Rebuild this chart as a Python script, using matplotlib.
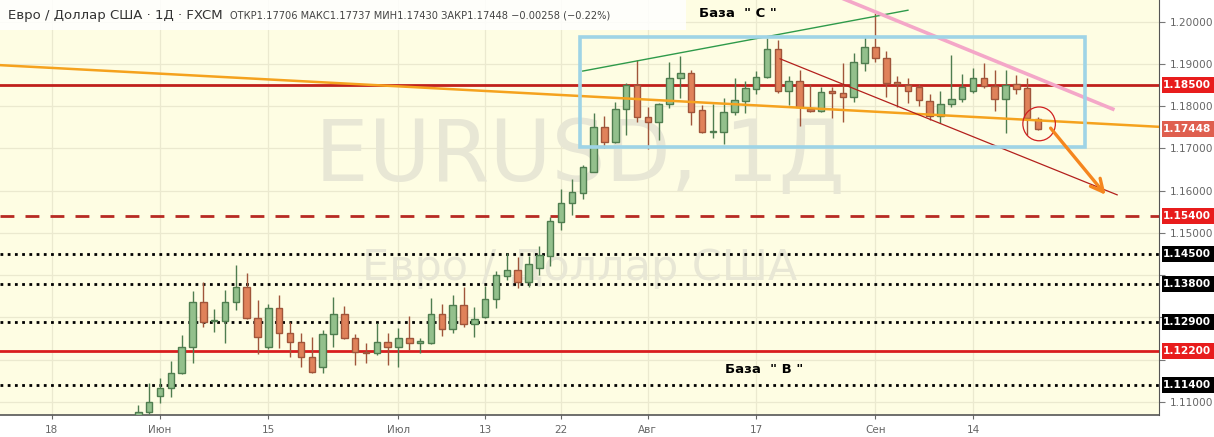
import matplotlib
matplotlib.use("Agg")
import matplotlib.pyplot as plt
from matplotlib import patches
from matplotlib.transforms import blended_transform_factory
import numpy as np

# EURUSD daily candles, 28 May .. 22 Sep (index 0 = 28 May)
opens = [
    1.1010, 1.1076, 1.1114, 1.1133, 1.1168, 1.1230, 1.1336, 1.1291, 1.1291, 1.1336,
    1.1372, 1.1299, 1.1230, 1.1322, 1.1263, 1.1242, 1.1206, 1.1183, 1.1261, 1.1308,
    1.1251, 1.1218, 1.1216, 1.1242, 1.1230, 1.1251, 1.1239, 1.1239, 1.1308, 1.1272,
    1.1329, 1.1284, 1.1301, 1.1343, 1.1399, 1.1412, 1.1384, 1.1417, 1.1445, 1.1526,
    1.1571, 1.1594, 1.1644, 1.1751, 1.1715, 1.1793, 1.1850, 1.1774, 1.1762, 1.1805,
    1.1867, 1.1878, 1.1791, 1.1739, 1.1739, 1.1786, 1.1812, 1.1840, 1.1869, 1.1935,
    1.1836, 1.1859, 1.1793, 1.1788, 1.1836, 1.1831, 1.1822, 1.1902, 1.1940, 1.1914,
    1.1857, 1.1850, 1.1845, 1.1812, 1.1777, 1.1805, 1.1817, 1.1836, 1.1867, 1.1848,
    1.1817, 1.1852, 1.1843, 1.17706]
highs = [
    1.1093, 1.1145, 1.1157, 1.1197, 1.1258, 1.1362, 1.1384, 1.1320, 1.1365, 1.1424,
    1.1405, 1.1341, 1.1332, 1.1353, 1.1289, 1.1263, 1.1254, 1.1270, 1.1348, 1.1327,
    1.1261, 1.1239, 1.1287, 1.1263, 1.1275, 1.1303, 1.1251, 1.1346, 1.1332, 1.1353,
    1.1372, 1.1325, 1.1374, 1.1410, 1.1452, 1.1443, 1.1445, 1.1469, 1.1538, 1.1604,
    1.1628, 1.1661, 1.1784, 1.1777, 1.1810, 1.1855, 1.1909, 1.1798, 1.1807, 1.1904,
    1.1919, 1.1886, 1.1803, 1.1805, 1.1819, 1.1867, 1.1860, 1.1883, 1.1961, 1.1957,
    1.1871, 1.1885, 1.1852, 1.1845, 1.1845, 1.1902, 1.1926, 1.1964, 1.2020, 1.1930,
    1.1871, 1.1867, 1.1852, 1.1829, 1.1836, 1.1921, 1.1876, 1.1890, 1.1902, 1.1885,
    1.1885, 1.1874, 1.1867, 1.17737]
lows = [
    1.1000, 1.1072, 1.1097, 1.1112, 1.1165, 1.1192, 1.1277, 1.1265, 1.1239, 1.1318,
    1.1295, 1.1213, 1.1225, 1.1228, 1.1206, 1.1183, 1.1168, 1.1168, 1.1230, 1.1249,
    1.1187, 1.1192, 1.1212, 1.1187, 1.1183, 1.1223, 1.1216, 1.1237, 1.1256, 1.1263,
    1.1277, 1.1254, 1.1299, 1.1322, 1.1389, 1.1370, 1.1372, 1.1400, 1.1422, 1.1507,
    1.1542, 1.1580, 1.1644, 1.1701, 1.1713, 1.1732, 1.1762, 1.1699, 1.1720, 1.1796,
    1.1819, 1.1755, 1.1737, 1.1724, 1.1710, 1.1779, 1.1784, 1.1829, 1.1867, 1.1831,
    1.1803, 1.1753, 1.1786, 1.1786, 1.1772, 1.1762, 1.1810, 1.1883, 1.1904, 1.1822,
    1.1798, 1.1807, 1.1800, 1.1767, 1.1760, 1.1798, 1.1810, 1.1831, 1.1843, 1.1788,
    1.1736, 1.1829, 1.1731, 1.17430]
closes = [
    1.1076, 1.1100, 1.1133, 1.1168, 1.1230, 1.1336, 1.1289, 1.1293, 1.1336, 1.1372,
    1.1299, 1.1254, 1.1322, 1.1263, 1.1242, 1.1206, 1.1171, 1.1261, 1.1308, 1.1251,
    1.1218, 1.1216, 1.1242, 1.1230, 1.1251, 1.1239, 1.1244, 1.1308, 1.1272, 1.1329,
    1.1284, 1.1296, 1.1343, 1.1400, 1.1412, 1.1384, 1.1426, 1.1448, 1.1528, 1.1571,
    1.1597, 1.1656, 1.1751, 1.1715, 1.1793, 1.1850, 1.1774, 1.1762, 1.1805, 1.1867,
    1.1878, 1.1786, 1.1739, 1.1740, 1.1786, 1.1815, 1.1843, 1.1869, 1.1935, 1.1836,
    1.1859, 1.1798, 1.1788, 1.1833, 1.1831, 1.1822, 1.1904, 1.1940, 1.1914, 1.1855,
    1.1852, 1.1836, 1.1815, 1.1777, 1.1805, 1.1817, 1.1845, 1.1867, 1.1848, 1.1817,
    1.1850, 1.1840, 1.1772, 1.17448]

tick_idx = [-8, 2, 12, 24, 32, 39, 47, 57, 68, 77]
tick_labels = ["18", "Июн", "15", "Июл", "13", "22", "Авг", "17", "Сен", "14"]

# price scale labels (the ones hidden behind level boxes are left blank)
price_ticks = [1.11, 1.12, 1.13, 1.14, 1.15, 1.16, 1.17, 1.18, 1.19, 1.20]
price_tick_labels = ["1.11000", "", "", "", "1.15000", "1.16000", "1.17000",
                     "1.18000", "1.19000", "1.20000"]

# horizontal levels
levels = [1.185, 1.154, 1.145, 1.138, 1.129, 1.122, 1.114]
level_kind = ["red", "dash", "dot", "dot", "dot", "red2", "dot"]
last_close = 1.17448

BG = "#fefde3"
GREEN_F, GREEN_E = "#93c08c", "#4f7d4f"
RED_F, RED_E = "#e0825a", "#a0553a"

fig = plt.figure(figsize=(12.14, 4.37), dpi=100)
ax = fig.add_axes([0, 22 / 437, 1159 / 1214, 415 / 437])
ax.set_facecolor(BG)
ax.set_xlim(-12.76, 94.16)
ax.set_ylim(1.10689, 1.20512)

# grid
for t in tick_idx:
    ax.axvline(t, color="#ebe9cf", lw=0.9, zorder=0)
for p in price_ticks:
    ax.axhline(p, color="#ebe9cf", lw=0.9, zorder=0)

# watermarks
ax.text(0.5, 0.62, "EURUSD, 1Д", transform=ax.transAxes, ha="center", va="center",
        fontsize=61, color="#e8e7d5", zorder=0.5,
        family=["Liberation Sans Narrow", "DejaVu Sans"])
ax.text(0.5, 0.355, "Евро / Доллар США", transform=ax.transAxes, ha="center", va="center",
        fontsize=31, color="#e8e7d5", zorder=0.5,
        family=["Liberation Sans Narrow", "DejaVu Sans"])

# candles
x = np.arange(len(opens))
for i in x:
    o, h, l, c = opens[i], highs[i], lows[i], closes[i]
    up = c >= o
    fc, ec = (GREEN_F, GREEN_E) if up else (RED_F, RED_E)
    ax.vlines(i, l, h, color=ec, lw=1, zorder=3)
    body = max(abs(c - o), 0.00012)
    ax.bar(i, body, bottom=min(o, c), width=0.6, color=fc, edgecolor=ec,
           linewidth=1, zorder=4)

# horizontal levels
for p, k in zip(levels, level_kind):
    if k == "red":
        ax.axhline(p, color="#c0201c", lw=2.0, zorder=2)
    elif k == "red2":
        ax.axhline(p, color="#d81e1e", lw=2.0, zorder=2)
    elif k == "dash":
        ax.axhline(p, color="#b72a22", lw=2.0, ls=(0, (5, 4)), zorder=2)
    else:
        ax.axhline(p, color="black", lw=2.0, ls=(0, (1, 1.6)), zorder=2)

# drawings
ax.plot([-12.76, 94.2], [1.1897, 1.1751], color="#f5a21e", lw=1.8, zorder=5)
ax.plot([41.0, 71.0], [1.1883, 1.2027], color="#2e9a4a", lw=1.0, zorder=5)
ax.plot([64.0, 89.9], [1.2065, 1.1793], color="#f4a7c8", lw=2.6, zorder=5)
ax.plot([59.2, 90.3], [1.1912, 1.1590], color="#b3201c", lw=0.9, zorder=5)
ax.add_patch(patches.Rectangle((40.75, 1.1703), 87.3 - 40.75, 1.1964 - 1.1703,
                               fill=False, ec="#9fd4e6", lw=2.6, zorder=5))
ax.add_patch(patches.Ellipse((83.1, 1.1758), 3.0, 0.0080, fill=False,
                             ec="#d02020", lw=0.9, zorder=6))
ax.annotate("", xy=(89.4, 1.1585), xytext=(84.0, 1.1753),
            arrowprops=dict(arrowstyle="->,head_length=0.9,head_width=0.45",
                            color="#f5861e", lw=2.4), zorder=6)

ax.text(0.637, 0.968, "База  \" C \"", transform=ax.transAxes, ha="center", va="center",
        fontsize=9.5, fontweight="bold", color="black", zorder=7)
ax.text(0.659, 0.11, "База  \" B \"", transform=ax.transAxes, ha="center", va="center",
        fontsize=9.5, fontweight="bold", color="black", zorder=7)

# header
ax.add_patch(patches.Rectangle((0, 1 - 30 / 415), 686 / 1159, 30 / 415, transform=ax.transAxes,
                               fc="white", ec="none", alpha=0.85, zorder=7))
ax.text(8 / 1159, 1 - 16 / 415, "Евро / Доллар США · 1Д · FXCM", transform=ax.transAxes,
        ha="left", va="center", fontsize=9.5, color="#333333", zorder=8)
ax.text(230 / 1159, 1 - 16 / 415,
        "ОТКР1.17706 МАКС1.17737 МИН1.17430 ЗАКР1.17448 −0.00258 (−0.22%)",
        transform=ax.transAxes, ha="left", va="center", fontsize=7.1, color="#444444", zorder=8)

# axes styling
for s in ["top", "left"]:
    ax.spines[s].set_visible(False)
ax.spines["right"].set_color("#555555")
ax.spines["bottom"].set_color("#555555")
ax.spines["bottom"].set_linewidth(1.2)
ax.yaxis.tick_right()
ax.set_yticks(price_ticks)
ax.set_yticklabels(price_tick_labels)
ax.tick_params(axis="y", colors="#777777", labelcolor="#666666", labelsize=7.6, length=4, pad=4)
ax.set_xticks(tick_idx)
ax.set_xticklabels(tick_labels)
ax.tick_params(axis="x", colors="#666666", labelcolor="#666666", labelsize=7.5, length=3, pad=4)

# price label boxes on the right scale
tr = blended_transform_factory(fig.transFigure, ax.transData)
box_h = 16 / 4225
x0 = 1162 / 1214
for p, k in zip(levels + [last_close], level_kind + ["last"]):
    col = {"red": "#e81c1c", "red2": "#e81c1c", "dash": "#e81c1c",
           "dot": "#000000", "last": "#df5f4f"}[k]
    fig.patches.append(patches.Rectangle((x0, p - box_h / 2), 1 - x0, box_h, transform=tr,
                                         fc=col, ec="none", figure=fig))
    fig.text((x0 + 1) / 2 - 1 / 1214, p, f"{p:.5f}", transform=tr, ha="center", va="center",
             fontsize=7.6, fontweight="bold", color="white")

fig.savefig("out.png", dpi=100, facecolor="white")
